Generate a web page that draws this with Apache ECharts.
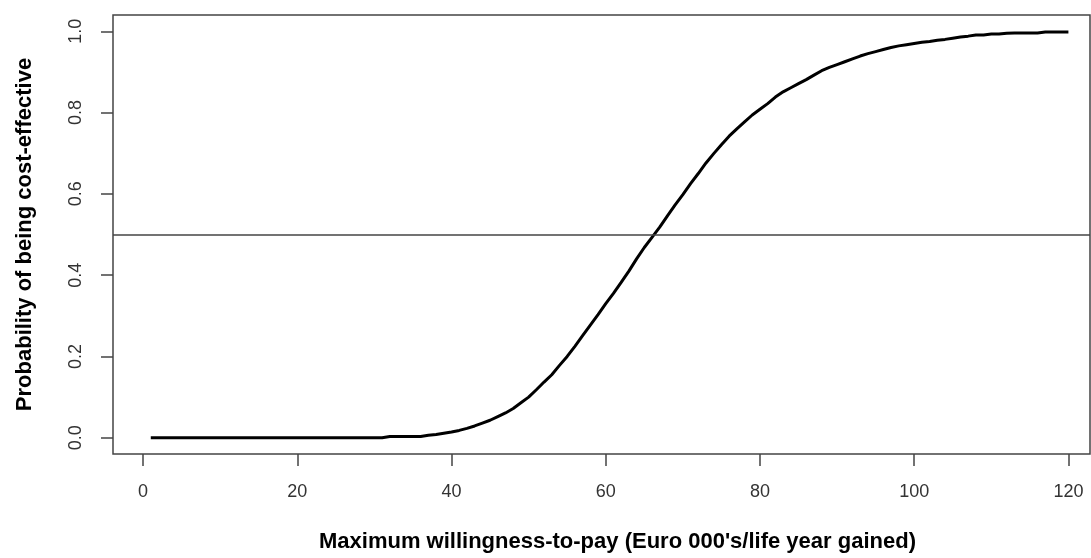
<!DOCTYPE html>
<html>
<head>
<meta charset="utf-8">
<script src="https://cdn.jsdelivr.net/npm/echarts@6/dist/echarts.min.js"></script>
<style>
html,body{margin:0;padding:0;background:#fff;}
#chart{width:1091px;height:558px;}
</style>
</head>
<body>
<div id="chart"></div>
<script>
// Data
const wtp = [];
for (let i = 1; i <= 120; i++) wtp.push(i); // willingness-to-pay values 1..120
const probability = [
  0,0,0,0,0,0,0,0,0,0,            // 1-10
  0,0,0,0,0,0,0,0,0,0,            // 11-20
  0,0,0,0,0,0,0,0,0,0,            // 21-30
  0,0.003,0.003,0.003,0.003,0.003,0.006,0.008,0.011,0.014, // 31-40
  0.018,0.023,0.029,0.036,0.043,0.052,0.061,0.072,0.086,0.100, // 41-50
  0.118,0.137,0.155,0.178,0.200,0.225,0.251,0.277,0.303,0.330, // 51-60
  0.355,0.382,0.410,0.440,0.468,0.493,0.518,0.546,0.573,0.598, // 61-70
  0.625,0.650,0.676,0.699,0.721,0.742,0.760,0.777,0.794,0.808, // 71-80
  0.822,0.838,0.851,0.861,0.871,0.881,0.892,0.903,0.911,0.918, // 81-90
  0.925,0.932,0.939,0.945,0.950,0.955,0.960,0.964,0.967,0.970, // 91-100
  0.973,0.975,0.978,0.980,0.983,0.986,0.988,0.991,0.991,0.993, // 101-110
  0.993,0.995,0.996,0.996,0.996,0.996,0.998,0.998,0.998,0.998  // 111-120
];
const xTicks = [0, 20, 40, 60, 80, 100, 120];
const yTicks = [0, 0.2, 0.4, 0.6, 0.8, 1.0];
const referenceLevel = 0.5;
const xTitle = "Maximum willingness-to-pay (Euro 000's/life year gained)";
const yTitle = "Probability of being cost-effective";

const seriesData = wtp.map((x, i) => [x, probability[i]]);

const chart = echarts.init(document.getElementById('chart'), null, {renderer: 'canvas'});
const font = 'Liberation Sans, Arial, sans-serif';
chart.setOption({
  animation: false,
  backgroundColor: '#fff',
  grid: {
    left: 113, right: 1, top: 15, bottom: 103,
    show: true, borderColor: '#444', borderWidth: 1.5, backgroundColor: 'transparent'
  },
  xAxis: {
    type: 'value',
    min: -3.9, max: 122.8,
    splitLine: {show: false},
    axisLine: {show: false, onZero: false},
    axisTick: {show: true, inside: false, customValues: xTicks, length: 12, lineStyle: {color: '#444', width: 1.5}},
    axisLabel: {show: true, customValues: xTicks, margin: 29, fontSize: 18, color: '#333', fontFamily: font},
    name: xTitle,
    nameLocation: 'middle',
    nameGap: 77,
    nameTextStyle: {fontSize: 22, fontWeight: 'bold', color: '#000', fontFamily: font, padding: [0, 0, 0, 32]}
  },
  yAxis: {
    type: 'value',
    min: -0.04, max: 1.04,
    splitLine: {show: false},
    axisLine: {show: false, onZero: false},
    axisTick: {show: true, inside: false, customValues: yTicks, length: 12, lineStyle: {color: '#444', width: 1.5}},
    axisLabel: {show: true, customValues: yTicks, rotate: 90, margin: 28, fontSize: 18, color: '#333', fontFamily: font,
      formatter: v => v.toFixed(1)},
    name: yTitle,
    nameLocation: 'middle',
    nameRotate: 90,
    nameGap: 77,
    nameTextStyle: {fontSize: 22, fontWeight: 'bold', color: '#000', fontFamily: font}
  },
  series: [{
    type: 'line',
    data: seriesData,
    showSymbol: false,
    symbol: 'none',
    lineStyle: {color: '#000', width: 3},
    silent: true,
    markLine: {
      silent: true,
      symbol: ['none', 'none'],
      label: {show: false},
      lineStyle: {color: '#444', width: 1.5, type: 'solid'},
      data: [{yAxis: referenceLevel}]
    }
  }]
});
</script>
</body>
</html>
